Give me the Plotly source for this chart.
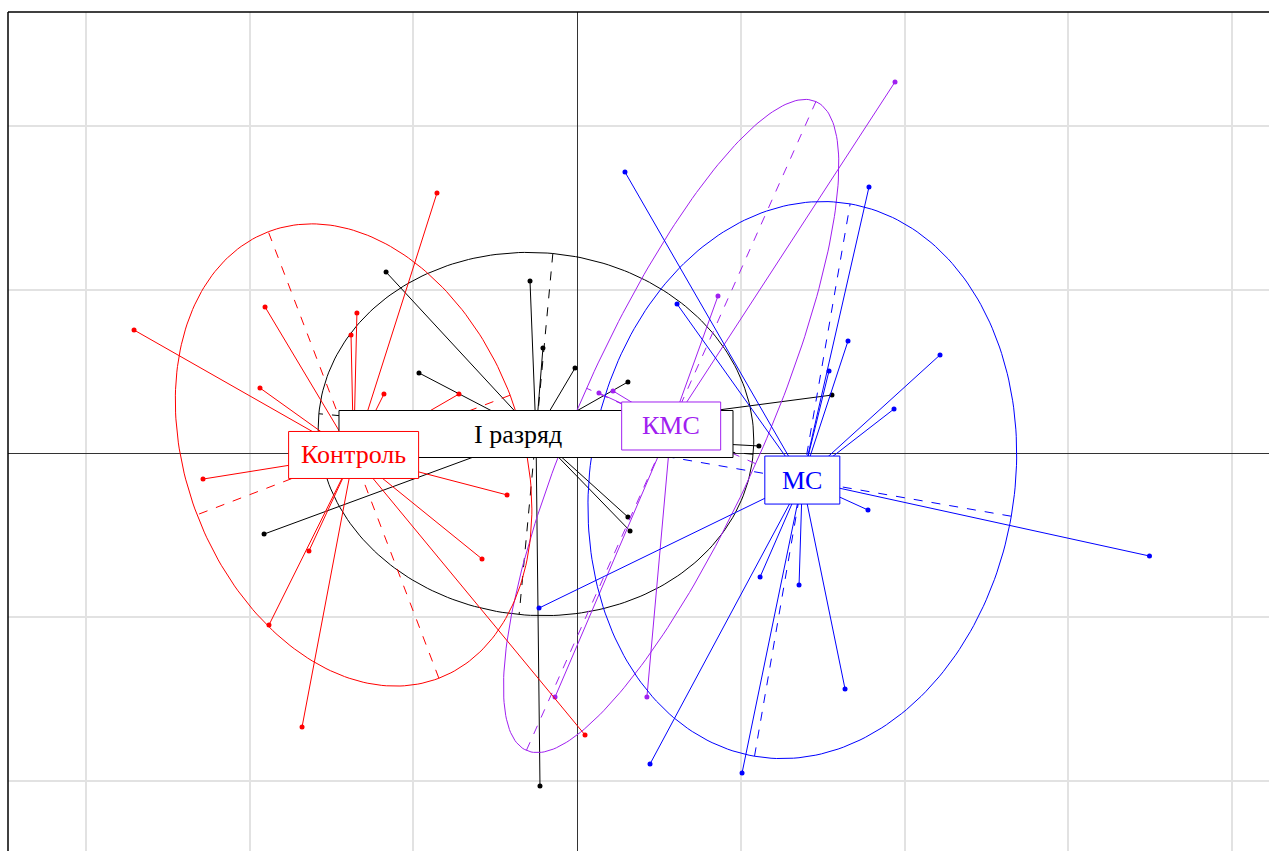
import numpy as np
import plotly.graph_objects as go

# Group scores on the first two factorial axes
ctrl_x = [-2.705, -0.855, -1.905, -1.344, -1.380, -1.936, -1.179, -0.721,
          -2.284, -1.637, -1.881, -1.679, -0.427, -0.580, 0.049]
ctrl_y = [0.754, 1.591, 0.895, 0.858, 0.724, 0.400, 0.363, 0.363,
          -0.156, -0.595, -1.047, -1.670, -0.253, -0.644, -1.719]

r1_x = [-1.166, -0.965, -0.287, -0.208, -0.012, 0.311, 0.311, 0.324,
        1.111, 1.557, -1.911, -0.226, -1.374, -0.507, -0.715]
r1_y = [1.108, 0.492, 1.053, 0.644, 0.522, 0.437, -0.388, -0.473,
        0.046, 0.357, -0.492, -2.031, 0.168, 0.150, 0.192]

kms_x = [1.942, 0.861, 0.134, 0.220, -0.134, 0.427]
kms_y = [2.269, 0.962, 0.369, 0.382, -1.487, -1.487]

ms_x = [0.293, 0.611, 1.783, 1.655, 1.539, 2.217, 1.936, 1.777,
        3.496, 1.118, 1.356, 1.637, 0.446, 1.008, -0.232]
ms_y = [1.719, 0.913, 1.627, 0.687, 0.504, 0.602, 0.272, -0.345,
        -0.626, -0.754, -0.803, -1.438, -1.896, -1.951, -0.944]

group_names = ["I разряд", "КМС", "Контроль", "МС"]
group_x = [r1_x, kms_x, ctrl_x, ms_x]
group_y = [r1_y, kms_y, ctrl_y, ms_y]
group_colors = ["black", "#A020F0", "red", "blue"]

# label box sizes in pixels (width, height) and text shift
box_px = [(394, 47), (99, 48), (130, 47), (75, 48)]
text_shift = [-18, 0, 0, 0]

CELLIPSE = 1.5
PX = 163.75  # pixels per data unit
W, H = 1269, 851
ML, MT = 8, 12
x0_px, y0_px = 577, 453.5
x_range = [(ML - x0_px) / PX, (W - x0_px) / PX]
y_range = [(y0_px - H) / PX, (y0_px - MT) / PX]

fig = go.Figure()
centers = []
for name, xs, ys, col in zip(group_names, group_x, group_y, group_colors):
    xs = np.asarray(xs)
    ys = np.asarray(ys)
    cx, cy = xs.mean(), ys.mean()
    centers.append((cx, cy))
    dx, dy = xs - cx, ys - cy
    cov = np.array([[np.mean(dx * dx), np.mean(dx * dy)],
                    [np.mean(dx * dy), np.mean(dy * dy)]])
    vals, vecs = np.linalg.eigh(cov)
    a = CELLIPSE * np.sqrt(max(vals[1], 0))
    b = CELLIPSE * np.sqrt(max(vals[0], 0))
    u = vecs[:, 1]
    v = vecs[:, 0]
    t = np.linspace(0, 2 * np.pi, 241)
    ex = cx + a * np.cos(t) * u[0] + b * np.sin(t) * v[0]
    ey = cy + a * np.cos(t) * u[1] + b * np.sin(t) * v[1]
    fig.add_trace(go.Scatter(x=ex, y=ey, mode="lines",
                             line=dict(color=col, width=1), hoverinfo="skip",
                             showlegend=False))
    # ellipse axes
    axx = [cx - a * u[0], cx + a * u[0], None, cx - b * v[0], cx + b * v[0]]
    axy = [cy - a * u[1], cy + a * u[1], None, cy - b * v[1], cy + b * v[1]]
    fig.add_trace(go.Scatter(x=axx, y=axy, mode="lines",
                             line=dict(color=col, width=1, dash="dash"),
                             hoverinfo="skip", showlegend=False))
    # star segments from the centroid
    sx, sy = [], []
    for px, py in zip(xs, ys):
        sx += [cx, px, None]
        sy += [cy, py, None]
    fig.add_trace(go.Scatter(x=sx, y=sy, mode="lines",
                             line=dict(color=col, width=1), hoverinfo="skip",
                             showlegend=False))
    fig.add_trace(go.Scatter(x=xs, y=ys, mode="markers",
                             marker=dict(color=col, size=5), name=name,
                             showlegend=False))

shapes = []
annotations = []
for name, (cx, cy), col, (bw, bh), sh in zip(group_names, centers, group_colors,
                                              box_px, text_shift):
    hw, hh = bw / 2 / PX, bh / 2 / PX
    shapes.append(dict(type="rect", xref="x", yref="y",
                       x0=cx - hw, x1=cx + hw, y0=cy - hh, y1=cy + hh,
                       fillcolor="white", line=dict(color=col, width=1),
                       layer="above"))
    annotations.append(dict(x=cx, y=cy, xref="x", yref="y", text=name,
                            showarrow=False, xshift=sh,
                            font=dict(family="Liberation Serif", size=26,
                                      color=col)))

# plot frame: left and top edges
shapes.append(dict(type="line", xref="paper", yref="paper", x0=0, x1=0,
                   y0=0, y1=1, line=dict(color="black", width=1.5)))
shapes.append(dict(type="line", xref="paper", yref="paper", x0=0, x1=1,
                   y0=1, y1=1, line=dict(color="black", width=1.5)))

axis_common = dict(showgrid=True, gridcolor="#E2E2E2", gridwidth=1.5,
                   dtick=1, tick0=0, showticklabels=False, ticks="",
                   zeroline=True, zerolinecolor="#333333", zerolinewidth=1.3,
                   showline=False, fixedrange=True)
fig.update_layout(
    width=W, height=H,
    margin=dict(l=ML, r=0, t=MT, b=0, pad=0),
    paper_bgcolor="white", plot_bgcolor="white",
    xaxis=dict(range=x_range, **axis_common),
    yaxis=dict(range=y_range, **axis_common),
    shapes=shapes, annotations=annotations,
)

fig.write_html("out.html")
